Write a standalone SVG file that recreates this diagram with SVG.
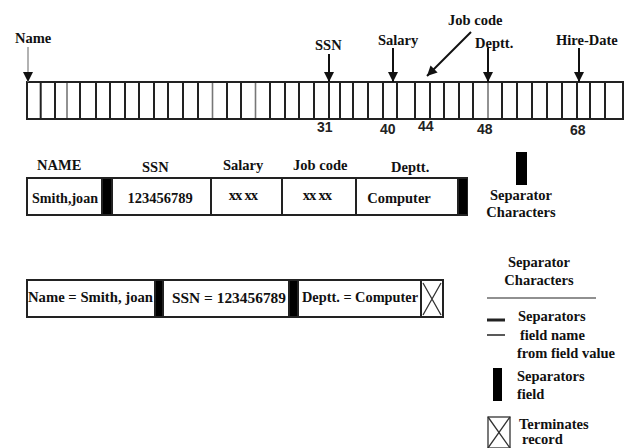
<svg xmlns="http://www.w3.org/2000/svg" width="625" height="448" viewBox="0 0 625 448">
  <defs>
    <style>
      .t { font-family: "Liberation Serif", "DejaVu Serif", serif; font-weight: bold; font-size: 14.5px; fill: #111; }
      .n { font-family: "Liberation Sans", Arial, sans-serif; font-weight: bold; font-size: 14px; fill: #222; }
      .box { fill: #fff; stroke: #222; stroke-width: 2; }
      .div { stroke: #222; stroke-width: 2; }
      .divl { stroke: #777; stroke-width: 1.6; }
      .sep { fill: #000; }
      .arr { stroke: #111; stroke-width: 2; fill: none; }
    </style>
    <marker id="head" viewBox="0 0 10 10" refX="10" refY="5" markerWidth="10" markerHeight="10" markerUnits="userSpaceOnUse" orient="auto">
      <path d="M0,0 L10,5 L0,10 z" fill="#111"/>
    </marker>
  </defs>

  <rect width="625" height="448" fill="#fff"/>

  <!-- character-position bar -->
  <g id="bar">
    <rect class="box" x="27" y="82" width="596" height="37"/>
    <g class="div">
      <line x1="40.7" y1="82" x2="40.7" y2="119"/>
      <line x1="55" y1="82" x2="55" y2="119"/>
      <line x1="80" y1="82" x2="80" y2="119"/>
      <line x1="96" y1="82" x2="96" y2="119"/>
      <line x1="110" y1="82" x2="110" y2="119"/>
      <line x1="125" y1="82" x2="125" y2="119"/>
      <line x1="139" y1="82" x2="139" y2="119"/>
      <line x1="154" y1="82" x2="154" y2="119"/>
      <line x1="168" y1="82" x2="168" y2="119"/>
      <line x1="183" y1="82" x2="183" y2="119"/>
      <line x1="198" y1="82" x2="198" y2="119"/>
      <line x1="227" y1="82" x2="227" y2="119"/>
      <line x1="241" y1="82" x2="241" y2="119"/>
      <line x1="270" y1="82" x2="270" y2="119"/>
      <line x1="285" y1="82" x2="285" y2="119"/>
      <line x1="299" y1="82" x2="299" y2="119"/>
      <line x1="314" y1="82" x2="314" y2="119"/>
      <line x1="329" y1="82" x2="329" y2="119"/>
      <line x1="340" y1="82" x2="340" y2="119"/>
      <line x1="353" y1="82" x2="353" y2="119"/>
      <line x1="368" y1="82" x2="368" y2="119"/>
      <line x1="383" y1="82" x2="383" y2="119"/>
      <line x1="397" y1="82" x2="397" y2="119"/>
      <line x1="415" y1="82" x2="415" y2="119"/>
      <line x1="430" y1="82" x2="430" y2="119"/>
      <line x1="444" y1="82" x2="444" y2="119"/>
      <line x1="459" y1="82" x2="459" y2="119"/>
      <line x1="473" y1="82" x2="473" y2="119"/>
      <line x1="502" y1="82" x2="502" y2="119"/>
      <line x1="517" y1="82" x2="517" y2="119"/>
      <line x1="532" y1="82" x2="532" y2="119"/>
      <line x1="547" y1="82" x2="547" y2="119"/>
      <line x1="562" y1="82" x2="562" y2="119"/>
      <line x1="577" y1="82" x2="577" y2="119"/>
      <line x1="590" y1="82" x2="590" y2="119"/>
      <line x1="605" y1="82" x2="605" y2="119"/>
    </g>
    <g class="divl">
      <line x1="67" y1="83" x2="67" y2="118"/>
      <line x1="212.5" y1="83" x2="212.5" y2="118"/>
      <line x1="255.5" y1="83" x2="255.5" y2="118"/>
      <line x1="488" y1="83" x2="488" y2="118"/>
    </g>
  </g>

  <!-- field labels with pointers -->
  <g id="connectors">
    <line x1="28" y1="47" x2="28" y2="82" stroke="#999" stroke-width="1.5" marker-end="url(#head)"/>
    <line class="arr" x1="329" y1="54" x2="329" y2="82" marker-end="url(#head)"/>
    <line class="arr" x1="393" y1="48" x2="393" y2="82" marker-end="url(#head)"/>
    <line class="arr" x1="471" y1="32" x2="427" y2="76" stroke-width="1.5" marker-end="url(#head)"/>
    <line class="arr" x1="488" y1="48" x2="488" y2="82" marker-end="url(#head)"/>
    <line class="arr" x1="579" y1="48" x2="579" y2="82" marker-end="url(#head)"/>
  </g>

  <g id="labels-top">
    <text class="t" x="15" y="43">Name</text>
    <text class="t" x="315" y="50">SSN</text>
    <text class="t" x="378" y="45">Salary</text>
    <text class="t" x="448" y="25">Job code</text>
    <text class="t" x="475" y="48">Deptt.</text>
    <text class="t" x="556" y="45">Hire-Date</text>
    <text class="n" x="317" y="132">31</text>
    <text class="n" x="380" y="134">40</text>
    <text class="n" x="418" y="131">44</text>
    <text class="n" x="477" y="134">48</text>
    <text class="n" x="570" y="135">68</text>
  </g>

  <!-- fixed-field record -->
  <g id="record-fixed">
    <text class="t" x="37" y="170">NAME</text>
    <text class="t" x="142" y="172">SSN</text>
    <text class="t" x="223" y="170">Salary</text>
    <text class="t" x="293" y="170">Job code</text>
    <text class="t" x="391" y="172">Deptt.</text>
    <rect class="box" x="27" y="178" width="440" height="37"/>
    <rect class="sep" x="102" y="179" width="10" height="35"/>
    <rect class="sep" x="458" y="179" width="9" height="35"/>
    <g class="div">
      <line x1="102" y1="178" x2="102" y2="215"/>
      <line x1="112" y1="178" x2="112" y2="215"/>
      <line x1="211" y1="178" x2="211" y2="215"/>
      <line x1="282" y1="178" x2="282" y2="215"/>
      <line x1="356" y1="178" x2="356" y2="215"/>
      <line x1="458" y1="178" x2="458" y2="215"/>
    </g>
    <text class="t" x="65" y="203" text-anchor="middle" textLength="66" lengthAdjust="spacingAndGlyphs">Smith,joan</text>
    <text class="t" x="160" y="203" text-anchor="middle" font-weight="normal" font-size="15.5">123456789</text>
    <text class="t" x="243" y="200" text-anchor="middle" font-size="12" letter-spacing="-0.8">xx xx</text>
    <text class="t" x="317" y="200" text-anchor="middle" font-size="12" letter-spacing="-0.8">xx xx</text>
    <text class="t" x="399" y="203" text-anchor="middle">Computer</text>
  </g>

  <g id="legend-separator">
    <rect class="sep" x="516" y="152" width="11" height="33"/>
    <text class="t" x="521" y="200" text-anchor="middle">Separator</text>
    <text class="t" x="521" y="217" text-anchor="middle">Characters</text>
  </g>

  <!-- keyword record -->
  <g id="record-keyword">
    <rect class="box" x="27" y="280" width="416" height="37"/>
    <rect class="sep" x="155" y="281" width="8" height="35"/>
    <rect class="sep" x="289" y="281" width="9" height="35"/>
    <g class="div">
      <line x1="155" y1="280" x2="155" y2="317"/>
      <line x1="163" y1="280" x2="163" y2="317"/>
      <line x1="289" y1="280" x2="289" y2="317"/>
      <line x1="298" y1="280" x2="298" y2="317"/>
      <line x1="421" y1="280" x2="421" y2="317"/>
    </g>
    <path d="M423,283 L441,315 M441,283 L423,315" stroke="#333" stroke-width="1.3" fill="none"/>
    <text class="t" x="28" y="302" textLength="125" lengthAdjust="spacingAndGlyphs">Name = Smith, joan</text>
    <text class="t" x="172" y="303" textLength="114" lengthAdjust="spacingAndGlyphs">SSN = 123456789</text>
    <text class="t" x="302" y="302" textLength="116" lengthAdjust="spacingAndGlyphs">Deptt. = Computer</text>
  </g>

  <!-- key -->
  <g id="legend-key">
    <text class="t" x="539" y="267" text-anchor="middle">Separator</text>
    <text class="t" x="539" y="285" text-anchor="middle">Characters</text>
    <line x1="487" y1="298" x2="596" y2="298" stroke="#222" stroke-width="1.2"/>
    <line x1="487" y1="320" x2="505" y2="320" stroke="#222" stroke-width="3"/>
    <line x1="487" y1="335" x2="505" y2="335" stroke="#222" stroke-width="1.5"/>
    <text class="t" x="518" y="321">Separators</text>
    <text class="t" x="520" y="340">field name</text>
    <text class="t" x="517" y="358">from field value</text>
    <rect class="sep" x="493" y="368" width="9" height="33"/>
    <text class="t" x="517" y="381">Separators</text>
    <text class="t" x="517" y="399">field</text>
    <rect x="488" y="417" width="22" height="31" fill="none" stroke="#333" stroke-width="1.3"/>
    <path d="M488,417 L510,448 M510,417 L488,448" stroke="#333" stroke-width="1.3" fill="none"/>
    <text class="t" x="519" y="429">Terminates</text>
    <text class="t" x="522" y="444">record</text>
  </g>
</svg>
